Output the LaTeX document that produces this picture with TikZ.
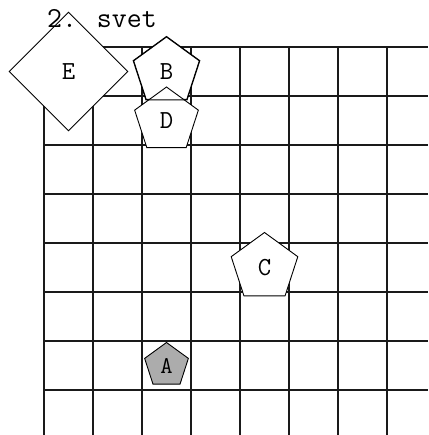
\documentclass[tikz,border=0pt]{standalone}
\usepackage{xcolor}
\usetikzlibrary{shapes.geometric}
\definecolor{gridLine}{HTML}{1A1A1A}
\definecolor{pieceGrey}{HTML}{ACACAC}

\tikzset{
  gridline/.style={gridLine, line width=1.8pt},
  piece/.style={regular polygon, regular polygon sides=5, draw=black,
    line width=0.9pt, fill=white, inner sep=0pt, minimum size=69pt,
    font=\fontsize{26}{26}\selectfont\ttfamily},
  kingpiece/.style={diamond, draw=black, line width=0.9pt, fill=white,
    inner sep=0pt, minimum width=119pt, minimum height=119pt,
    font=\fontsize{26}{26}\selectfont\ttfamily},
  worldtitle/.style={anchor=base west, inner sep=0pt,
    font=\fontsize{29}{29}\selectfont\ttfamily}
}

\begin{document}
\begin{tikzpicture}[x=1pt, y=-1pt]

\def\xO{44}
\def\yO{47}
\def\cellS{49}        % cell size
\def\xMax{428}
\def\yMax{435}

\useasboundingbox (0,0) rectangle (\xMax,\yMax);

% --- GRID (runs off the right and bottom edge) ---
\begin{scope}
  \clip (0,0) rectangle (\xMax,\yMax);
  \foreach \k in {0,...,7} {
    \draw[gridline] (\xO + \k*\cellS, \yO) -- (\xO + \k*\cellS, \yMax);
    \draw[gridline] (\xO, \yO + \k*\cellS) -- (\xMax, \yO + \k*\cellS);
  }
\end{scope}

% --- PIECES (centred in their cells) ---
\node[kingpiece] (E) at (\xO + 0.5*\cellS, \yO + 0.5*\cellS) {E};
\node[piece] (B) at (\xO + 2.5*\cellS, \yO + 0.5*\cellS) {B};
\node[piece, minimum size=67pt] (D) at (\xO + 2.5*\cellS, \yO + 1.5*\cellS) {D};
\node[piece, minimum size=70pt] (C) at (\xO + 4.5*\cellS, \yO + 4.5*\cellS) {C};
\node[piece, fill=pieceGrey, minimum size=46pt,
  font=\fontsize{24}{24}\selectfont\ttfamily] (A)
  at (\xO + 2.5*\cellS, \yO + 6.5*\cellS) {A};

% B outline stays visible over D
\draw[black, line width=0.9pt] (B.corner 1)
  \foreach \c in {2,...,5} { -- (B.corner \c) } -- cycle;

% --- TITLE ---
\node[worldtitle] (title) at (47, 28) {2. svet};

\end{tikzpicture}
\end{document}
